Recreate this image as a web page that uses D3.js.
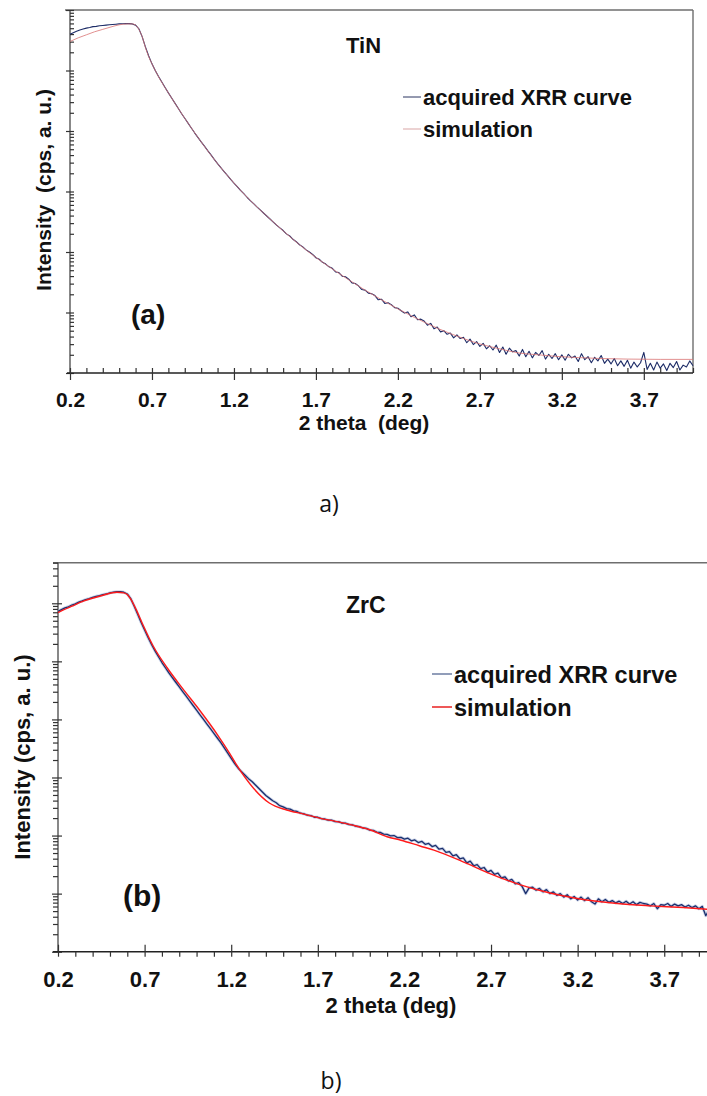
<!DOCTYPE html>
<html><head><meta charset="utf-8">
<script src="https://cdn.jsdelivr.net/npm/d3@7"></script>
<style>
html,body{margin:0;padding:0;background:#fff;}
svg{display:block;}
text{font-family:"Liberation Sans",Arial,sans-serif;font-weight:bold;fill:#111;}
text.cap{font-family:"Open Sans",sans-serif;font-weight:normal;}
</style></head><body>
<svg id="fig" width="707" height="1096"></svg>
<script>
// Scan grid of the measured curves: 2θ from 0.20° to 4.00° in 0.02° steps
const scanStart = 0.20, scanStep = 0.02, scanCount = 191;
const scanAngles = d3.range(scanCount).map(i => +(scanStart + i * scanStep).toFixed(2));

// Axis ticks (2θ, deg)
const xMajorTicks = [0.2, 0.7, 1.2, 1.7, 2.2, 2.7, 3.2, 3.7];
const xMinorTicks = [0.3,0.4,0.5,0.6,0.8,0.9,1.0,1.1,1.3,1.4,1.5,1.6,1.8,1.9,2.0,2.1,
                     2.3,2.4,2.5,2.6,2.8,2.9,3.0,3.1,3.3,3.4,3.5,3.6,3.8,3.9,4.0];

// TiN — measured intensity, log10(cps) on the scan grid
const tinAcquired = [
  5.60,5.625,5.65,5.67,5.685,5.70,5.71,5.725,5.73,5.74,
  5.745,5.75,5.755,5.76,5.765,5.77,5.772,5.775,5.775,5.77,
  5.75,5.69,5.56,5.39,5.24,5.11,5.00,4.90,4.81,4.72,
  4.63,4.545,4.46,4.375,4.29,4.21,4.13,4.05,3.97,3.895,
  3.82,3.75,3.675,3.605,3.53,3.46,3.395,3.33,3.265,3.20,
  3.14,3.08,3.02,2.965,2.905,2.85,2.80,2.745,2.695,2.645,
  2.595,2.545,2.495,2.445,2.40,2.355,2.30,2.265,2.21,2.17,
  2.12,2.085,2.035,2.00,1.96,1.905,1.88,1.83,1.80,1.755,
  1.73,1.67,1.66,1.60,1.59,1.55,1.49,1.48,1.44,1.38,
  1.37,1.32,1.31,1.28,1.21,1.22,1.15,1.16,1.13,1.08,
  1.07,1.03,0.99,1.01,0.93,0.96,0.88,0.89,0.86,0.79,
  0.82,0.73,0.76,0.68,0.70,0.64,0.66,0.58,0.63,0.57,
  0.59,0.50,0.56,0.47,0.52,0.44,0.49,0.40,0.45,0.38,
  0.46,0.34,0.43,0.31,0.41,0.35,0.37,0.28,0.39,0.27,
  0.36,0.25,0.34,0.29,0.37,0.23,0.31,0.24,0.32,0.22,
  0.30,0.21,0.31,0.25,0.28,0.19,0.32,0.22,0.27,0.17,
  0.26,0.20,0.29,0.16,0.23,0.15,0.24,0.12,0.20,0.11,
  0.21,0.08,0.18,0.10,0.17,0.34,0.06,0.16,0.05,0.18,
  0.08,0.15,0.04,0.16,0.09,0.19,0.05,0.13,0.10,0.20,
  0.12
];
// TiN — simulated curve, log10(cps)
const tinSimAngles = [0.20,0.25,0.30,0.35,0.40,0.45,0.50,0.55,0.58,0.60,0.62,0.64,0.66,0.68,0.70,
  0.75,0.80,0.90,1.00,1.10,1.20,1.30,1.40,1.50,1.60,1.70,1.80,1.90,2.00,2.10,2.20,2.30,2.45,2.60,2.70,
  2.82,2.94,3.06,3.19,3.30,3.43,3.60,3.80,4.00];
const tinSimulated = [5.48,5.54,5.59,5.64,5.68,5.72,5.755,5.77,5.77,5.75,5.68,5.56,5.38,5.23,5.11,
  4.85,4.63,4.21,3.82,3.46,3.14,2.85,2.595,2.35,2.12,1.91,1.72,1.54,1.37,1.21,1.06,0.92,0.73,0.57,0.48,
  0.40,0.33,0.30,0.27,0.255,0.24,0.23,0.225,0.225];

// ZrC — measured intensity, log10(cps) on the scan grid
const zrcAcquired = [
  5.86,5.89,5.92,5.94,5.97,5.99,6.02,6.04,6.065,6.08,
  6.10,6.12,6.13,6.15,6.16,6.18,6.19,6.20,6.20,6.19,
  6.16,6.08,5.95,5.81,5.67,5.54,5.41,5.29,5.18,5.08,
  4.98,4.89,4.80,4.72,4.64,4.56,4.48,4.40,4.32,4.24,
  4.16,4.08,4.00,3.92,3.84,3.76,3.68,3.60,3.51,3.42,
  3.33,3.24,3.16,3.10,3.04,2.98,2.93,2.87,2.81,2.75,
  2.69,2.645,2.60,2.565,2.515,2.495,2.465,2.455,2.425,2.415,
  2.385,2.375,2.35,2.345,2.315,2.315,2.29,2.285,2.265,2.265,
  2.24,2.24,2.215,2.215,2.19,2.185,2.16,2.155,2.13,2.125,
  2.095,2.09,2.06,2.055,2.025,2.02,1.995,2.00,1.965,1.97,
  1.94,1.955,1.91,1.925,1.88,1.90,1.85,1.865,1.81,1.83,
  1.765,1.78,1.71,1.725,1.65,1.67,1.60,1.615,1.53,1.56,
  1.48,1.50,1.43,1.45,1.37,1.40,1.33,1.355,1.27,1.29,
  1.22,1.245,1.17,1.19,1.12,1.00,1.10,1.11,1.06,1.09,
  1.03,1.07,1.00,1.03,0.97,1.00,0.94,0.98,0.91,0.95,
  0.89,0.94,0.88,0.93,0.86,0.82,0.91,0.86,0.90,0.85,
  0.88,0.84,0.87,0.83,0.87,0.82,0.86,0.81,0.85,0.83,
  0.82,0.79,0.83,0.74,0.81,0.80,0.83,0.78,0.82,0.79,
  0.81,0.77,0.80,0.76,0.79,0.74,0.78,0.62,0.73,0.70,
  0.72
];
// ZrC — simulated curve, log10(cps)
const zrcSimAngles = [0.20,0.28,0.35,0.45,0.54,0.58,0.60,0.62,0.65,0.69,0.75,0.83,0.92,1.02,1.12,
  1.19,1.23,1.33,1.42,1.52,1.62,1.71,1.81,1.90,2.00,2.10,2.18,2.29,2.37,2.56,2.69,2.87,3.04,3.19,3.43,
  3.62,3.81,4.00];
const zrcSimulated = [5.84,5.95,6.04,6.13,6.19,6.18,6.15,6.07,5.90,5.63,5.26,4.89,4.53,4.15,3.74,
  3.42,3.22,2.81,2.56,2.44,2.37,2.30,2.24,2.18,2.10,1.98,1.92,1.82,1.75,1.52,1.35,1.15,1.01,0.92,0.83,
  0.79,0.76,0.72];

const legendLabels = ["acquired XRR curve", "simulation"];

const svg = d3.select("#fig");
const pairs = (xs, ys) => xs.map((v, i) => [v, Math.pow(10, ys[i])]);

function drawPanel(p) {
  const g = svg.append("g");
  const x = d3.scaleLinear().domain([0.2, 4.0]).range([p.left, p.right]);
  const y = d3.scaleLog().domain(p.yDomain).range([p.bottom, p.top]);
  const tickColor = "#333";

  // frame
  g.append("line").attr("x1", p.frameLeft).attr("x2", Math.min(p.right, 707)).attr("y1", p.top).attr("y2", p.top)
    .attr("stroke", "#6e6e6e").attr("stroke-width", 1.4);
  if (p.rightBorder) {
    g.append("line").attr("x1", p.right).attr("x2", p.right).attr("y1", p.top).attr("y2", p.bottom)
      .attr("stroke", "#6e6e6e").attr("stroke-width", 1.4);
  }

  const yt = y.ticks();
  const isDecade = v => Math.abs(Math.log10(v) - Math.round(Math.log10(v))) < 1e-9;
  const yMajor = yt.filter(isDecade), yMinor = yt.filter(v => !isDecade(v));

  const styleAxis = sel => {
    sel.select(".domain").remove();
    sel.selectAll(".tick line").attr("stroke", tickColor).attr("stroke-width", 1.2);
  };

  // y axis
  g.append("line").attr("x1", p.left).attr("x2", p.left).attr("y1", p.top).attr("y2", p.bottom)
    .attr("stroke", "#555").attr("stroke-width", 1.4);
  g.append("g").attr("transform", `translate(${p.left},0)`)
    .call(d3.axisLeft(y).tickValues(yMajor).tickSize(p.yMajOut).tickFormat("")).call(styleAxis);
  g.append("g").attr("transform", `translate(${p.left},0)`)
    .call(d3.axisRight(y).tickValues(yMajor).tickSize(p.yMajIn).tickFormat("")).call(styleAxis);
  g.append("g").attr("transform", `translate(${p.left},0)`)
    .call((p.yMinorInside ? d3.axisRight(y) : d3.axisLeft(y)).tickValues(yMinor).tickSize(p.yMinLen).tickFormat(""))
    .call(styleAxis);

  // x axis
  g.append("line").attr("x1", p.axisLeft).attr("x2", Math.min(p.right, 707)).attr("y1", p.bottom).attr("y2", p.bottom)
    .attr("stroke", "#222").attr("stroke-width", 1.4);
  const xb = g.append("g").attr("transform", `translate(0,${p.bottom})`)
    .call(d3.axisBottom(x).tickValues(xMajorTicks).tickSize(p.xMajOut).tickPadding(p.xPad).tickFormat(d3.format(".1f")))
    .call(styleAxis);
  xb.selectAll(".tick text").attr("font-size", p.tickFont).attr("fill", "#111")
    .style("font-family", '"Liberation Sans", Arial, sans-serif').style("font-weight", "bold");
  g.append("g").attr("transform", `translate(0,${p.bottom})`)
    .call(d3.axisTop(x).tickValues(xMajorTicks).tickSize(p.xMajIn).tickFormat("")).call(styleAxis);
  g.append("g").attr("transform", `translate(0,${p.bottom})`)
    .call((p.xMinorInside ? d3.axisTop(x) : d3.axisBottom(x)).tickValues(xMinorTicks).tickSize(p.xMinLen).tickFormat(""))
    .call(styleAxis);

  // curves
  const lineLin = d3.line().x(d => x(d[0])).y(d => y(d[1]));
  const lineSmooth = d3.line().x(d => x(d[0])).y(d => y(d[1])).curve(d3.curveMonotoneX);
  const acq = pairs(scanAngles, p.acquired);
  const sim = pairs(p.simAngles, p.simulated);
  if (p.halo) {
    g.append("path").attr("d", lineLin(acq)).attr("fill", "none")
      .attr("stroke", "#a9b6d6").attr("stroke-width", 3).attr("stroke-opacity", 0.6).attr("stroke-linejoin", "round");
  }
  g.append("path").attr("d", lineLin(acq)).attr("fill", "none")
    .attr("stroke", p.acqColor).attr("stroke-width", p.acqWidth).attr("stroke-linejoin", "round");
  g.append("path").attr("d", lineSmooth(sim)).attr("fill", "none")
    .attr("stroke", p.simColor).attr("stroke-width", p.simWidth);

  // legend
  p.legendRows.forEach((ry, i) => {
    g.append("line").attr("x1", p.legendX).attr("x2", p.legendX + p.legendLen).attr("y1", ry).attr("y2", ry)
      .attr("stroke", i === 0 ? p.legAcqColor : p.legSimColor).attr("stroke-width", p.legWidth);
    g.append("text").attr("x", p.legendX + p.legendLen + 2).attr("y", ry + p.legendDy)
      .attr("font-size", p.legendFont).text(legendLabels[i]);
  });

  // titles and labels
  g.append("text").attr("x", p.titleX).attr("y", p.titleY).attr("font-size", p.titleFont).text(p.title);
  g.append("text").attr("x", p.tagX).attr("y", p.tagY).attr("font-size", p.tagFont).text(p.tag);
  g.append("text").attr("x", p.xTitleX).attr("y", p.xTitleY).attr("text-anchor", "middle")
    .attr("font-size", p.axisFont).style("white-space", "pre").text(p.xTitle);
  g.append("text").attr("transform", `translate(${p.yTitleX},${p.yTitleY}) rotate(-90)`).attr("text-anchor", "middle")
    .attr("font-size", p.axisFont).style("white-space", "pre").text(p.yTitle);
  g.append("text").attr("class", "cap").attr("x", p.capX).attr("y", p.capY).attr("text-anchor", "middle")
    .attr("font-size", 23).text(p.caption);
}

drawPanel({
  left: 70, right: 693, top: 10, bottom: 373, yDomain: [1, 1e6],
  frameLeft: 65, axisLeft: 67, rightBorder: true,
  yMajOut: 4, yMajIn: 4, yMinLen: 4, yMinorInside: true,
  xMajOut: 7, xMajIn: 5, xMinLen: 5, xMinorInside: true, xPad: 12, tickFont: 21,
  acquired: tinAcquired, simAngles: tinSimAngles, simulated: tinSimulated,
  acqColor: "#1c2b66", acqWidth: 1.1, simColor: "#d97474", simWidth: 0.8, halo: false,
  legendX: 403, legendLen: 18, legendRows: [97, 129], legendDy: 8, legendFont: 22, legWidth: 1,
  legAcqColor: "#2a3560", legSimColor: "#d9a5a5",
  title: "TiN", titleX: 346, titleY: 53, titleFont: 22,
  tag: "(a)", tagX: 131, tagY: 324, tagFont: 28,
  xTitle: "2 theta  (deg)", xTitleX: 364, xTitleY: 430,
  yTitle: "Intensity  (cps, a. u.)", yTitleX: 51, yTitleY: 190, axisFont: 21,
  caption: "a)", capX: 329, capY: 512
});

drawPanel({
  left: 58, right: 716.2, top: 562.7, bottom: 951.7, yDomain: [1, 5e6],
  frameLeft: 53, axisLeft: 53, rightBorder: false,
  yMajOut: 6, yMajIn: 4, yMinLen: 5, yMinorInside: false,
  xMajOut: 5, xMajIn: 7, xMinLen: 5, xMinorInside: false, xPad: 15, tickFont: 22,
  acquired: zrcAcquired, simAngles: zrcSimAngles, simulated: zrcSimulated,
  acqColor: "#1a2f6e", acqWidth: 1.3, simColor: "#ff1a1a", simWidth: 1.4, halo: true,
  legendX: 432, legendLen: 20, legendRows: [674, 707], legendDy: 8.5, legendFont: 23.5, legWidth: 1.5,
  legAcqColor: "#6c7ca2", legSimColor: "#e82020",
  title: "ZrC", titleX: 346, titleY: 613, titleFont: 23,
  tag: "(b)", tagX: 123, tagY: 906, tagFont: 30,
  xTitle: "2 theta (deg)", xTitleX: 391, xTitleY: 1013,
  yTitle: "Intensity (cps, a. u.)", yTitleX: 30, yTitleY: 757, axisFont: 22,
  caption: "b)", capX: 331, capY: 1089
});
</script>
</body></html>
